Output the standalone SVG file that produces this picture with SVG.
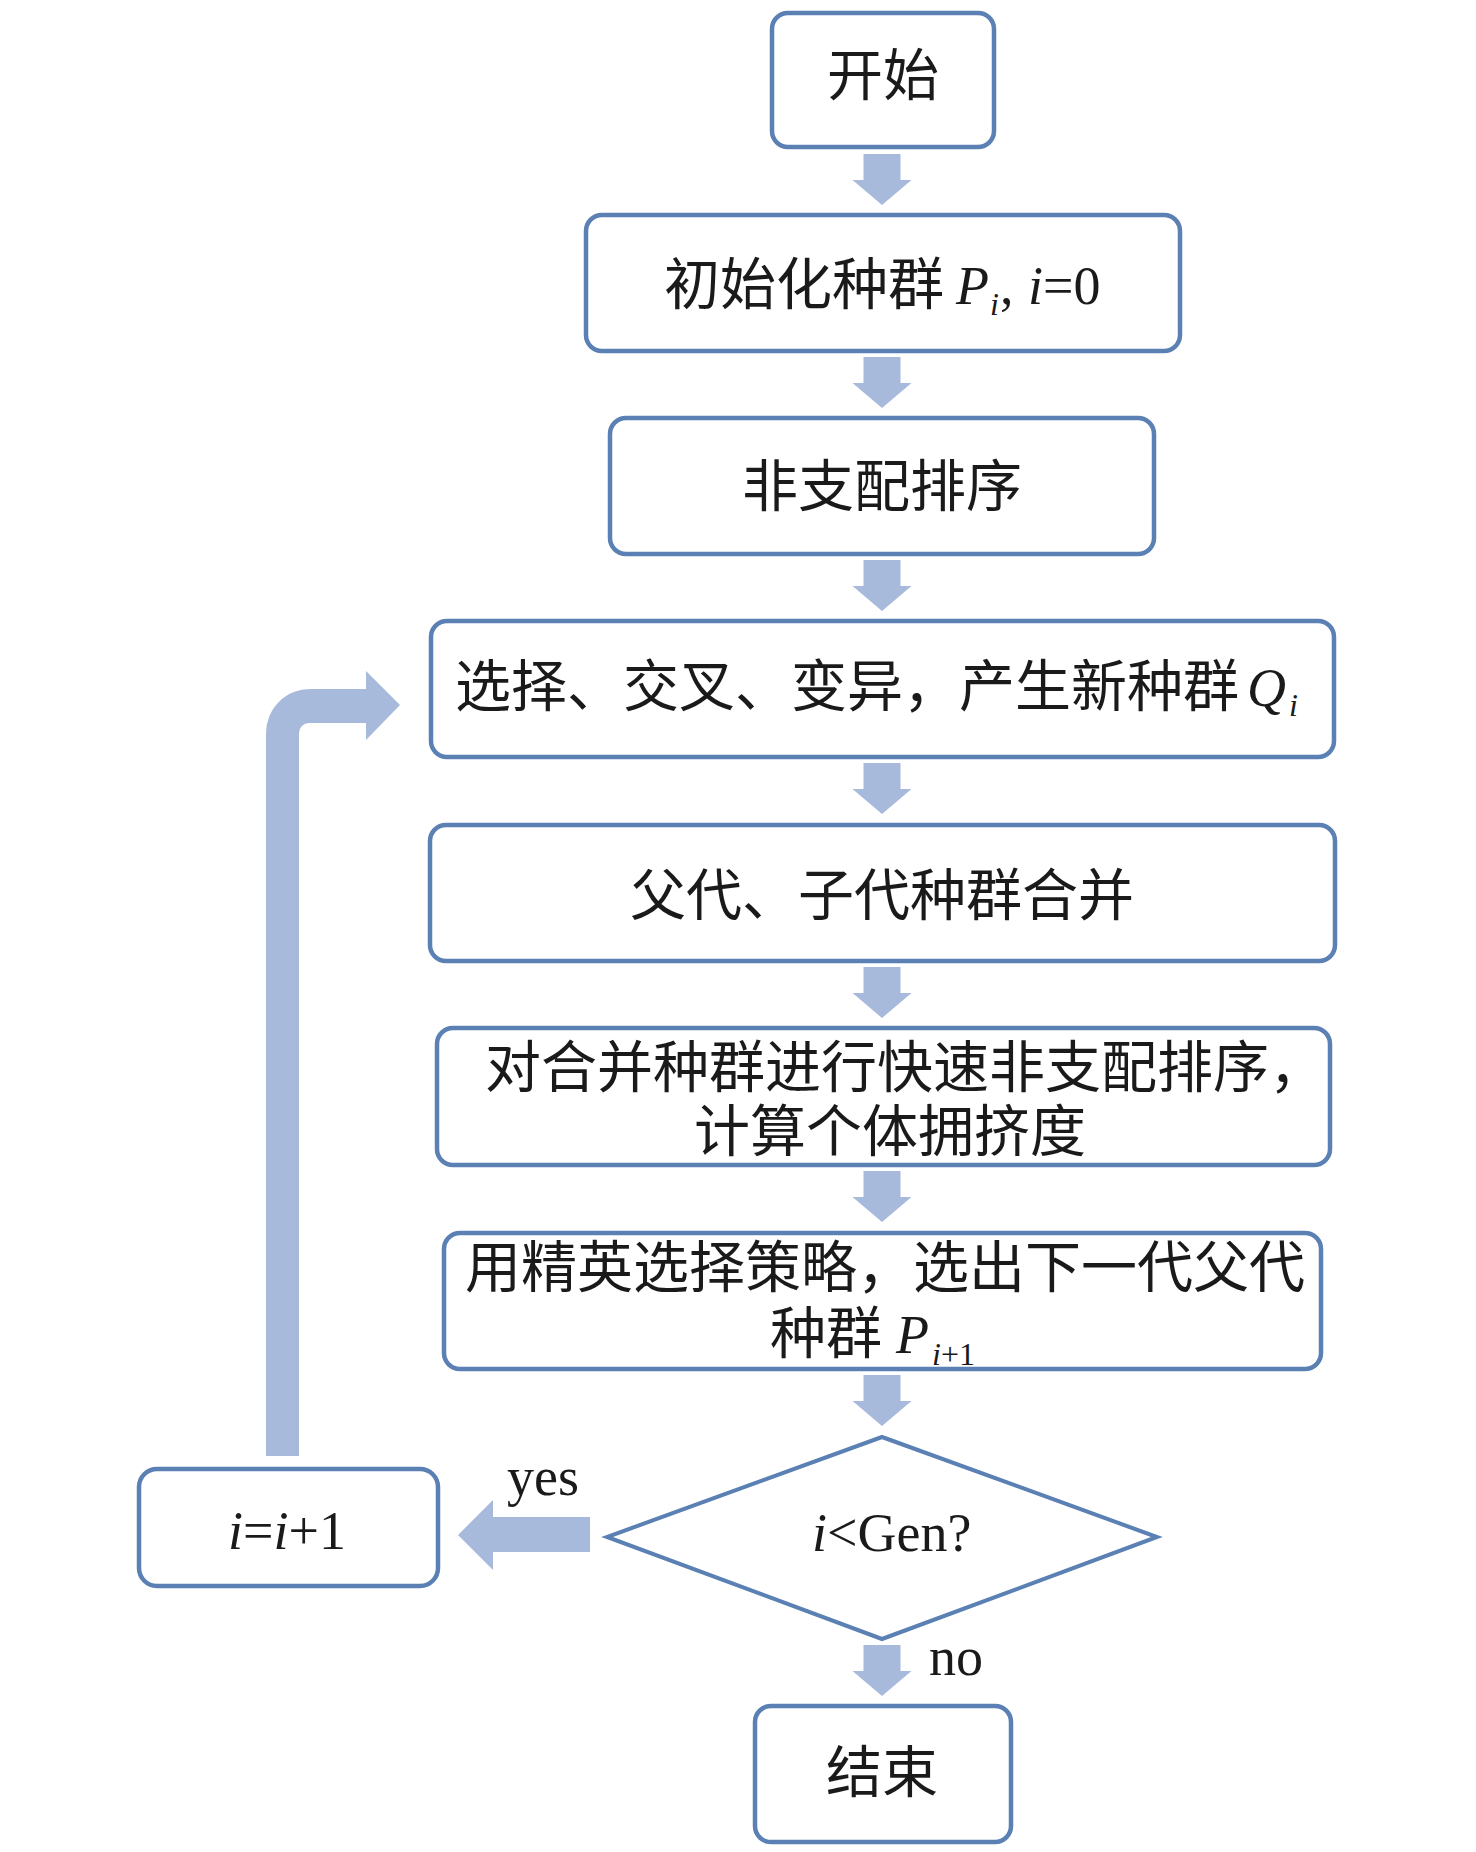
<svg xmlns="http://www.w3.org/2000/svg" width="1476" height="1852" viewBox="0 0 1476 1852">
<defs>
<style>
.box{fill:#ffffff;stroke:#5b80b4;stroke-width:4.5}
.arr{fill:#a8badc}
.cjk{font-family:"Noto Sans CJK SC","Noto Sans CJK JP",sans-serif;font-size:56px;fill:#1a1a1a}
.lat{font-family:"Liberation Serif","Times New Roman",serif;font-size:54px;fill:#1a1a1a}
.it{font-style:italic}
.sub{font-family:"Liberation Serif","Times New Roman",serif;font-size:32px;font-style:italic;fill:#1a1a1a}
</style>
<path id="down" d="M-18.5,0 H18.5 V26 H29.5 L0,51 L-29.5,26 H-18.5 Z"/>
</defs>
<rect width="1476" height="1852" fill="#ffffff"/>
<g id="connectors" class="arr">
<use href="#down" x="882" y="154"/>
<use href="#down" x="882" y="357"/>
<use href="#down" x="882" y="560"/>
<use href="#down" x="882" y="763"/>
<use href="#down" x="882" y="967"/>
<use href="#down" x="882" y="1171"/>
<use href="#down" x="882" y="1375"/>
<use href="#down" x="882" y="1645"/>
<path d="M590,1517 H493 V1500 L458,1535 L493,1570 V1552 H590 Z"/>
<path d="M266,1456 V733 A44,44 0 0 1 310,689 H366 V671 L400,705 L366,740 V723 H309 A10,10 0 0 0 299,733 V1456 Z"/>
</g>
<g id="start">
<rect class="box" x="772" y="13" width="222" height="134" rx="16"/>
<text class="cjk" x="827" y="95">开始</text>
</g>
<g id="init">
<rect class="box" x="586" y="215" width="594" height="136" rx="16"/>
<text class="cjk" x="664" y="304">初始化种群</text>
<text class="lat it" x="956" y="304">P</text>
<text class="sub" x="990" y="315">i</text>
<text class="lat" x="1000" y="304">,</text>
<text class="lat" x="1028" y="304"><tspan class="it">i</tspan>=0</text>
</g>
<g id="nds">
<rect class="box" x="610" y="418" width="544" height="136" rx="16"/>
<text class="cjk" x="882" y="506" text-anchor="middle">非支配排序</text>
</g>
<g id="genetic">
<rect class="box" x="431" y="621" width="903" height="136" rx="16"/>
<text class="cjk" x="455" y="706">选择、交叉、变异，产生新种群</text>
<text class="lat it" x="1247" y="706">Q</text>
<text class="sub" x="1289" y="716">i</text>
</g>
<g id="merge">
<rect class="box" x="430" y="825" width="905" height="136" rx="16"/>
<text class="cjk" x="882" y="915" text-anchor="middle">父代、子代种群合并</text>
</g>
<g id="fastsort">
<rect class="box" x="437" y="1028" width="893" height="137" rx="16"/>
<text class="cjk" x="485" y="1087">对合并种群进行快速非支配排序，</text>
<text class="cjk" x="694" y="1151">计算个体拥挤度</text>
</g>
<g id="elite">
<rect class="box" x="444" y="1233" width="877" height="136" rx="16"/>
<text class="cjk" x="465" y="1287">用精英选择策略，选出下一代父代</text>
<text class="cjk" x="770" y="1353">种群</text>
<text class="lat it" x="896" y="1353">P</text>
<text class="sub" x="932" y="1365"><tspan>i</tspan><tspan font-style="normal">+1</tspan></text>
</g>
<g id="decision">
<polygon points="882,1437 1157,1537 882,1639 607,1537" fill="#ffffff" stroke="#5b80b4" stroke-width="4"/>
<text class="lat" x="812" y="1551"><tspan class="it">i</tspan>&lt;Gen?</text>
</g>
<g id="increment">
<rect class="box" x="139" y="1469" width="299" height="117" rx="18"/>
<text class="lat" x="228" y="1549" font-size="52"><tspan class="it">i</tspan>=<tspan class="it">i</tspan>+1</text>
</g>
<g id="end">
<rect class="box" x="755" y="1706" width="256" height="136" rx="16"/>
<text class="cjk" x="826" y="1792">结束</text>
</g>
<g id="labels">
<text class="lat" x="507" y="1495" font-size="52">yes</text>
<text class="lat" x="929" y="1675">no</text>
</g>
</svg>
